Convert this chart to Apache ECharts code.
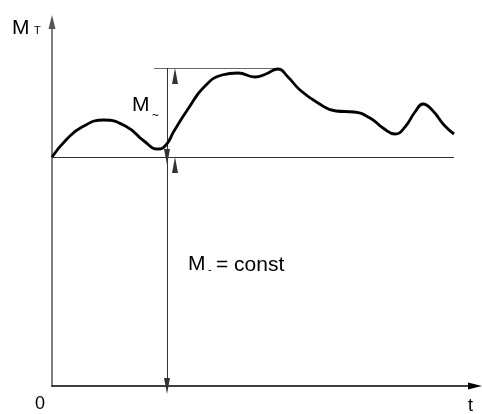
<!DOCTYPE html>
<html>
<head>
<meta charset="utf-8">
<script src="https://cdn.jsdelivr.net/npm/echarts@6/dist/echarts.min.js"></script>
<style>
  html, body { margin: 0; padding: 0; background: #fff; }
  #chart { width: 482px; height: 414px; }
</style>
</head>
<body>
<div id="chart"></div>
<script>
// torque curve M_T(t) (arbitrary units)
const tVals = [0, 14, 30, 52, 75, 92, 106, 114, 122, 136, 152, 170, 186, 203, 214, 226,
  236, 248, 266, 284, 302, 318, 331, 343, 353, 363, 371, 381, 392, 402];
const mVals = [229, 246, 259, 266, 259, 245, 237, 241, 255, 277, 299, 311, 313, 309, 312, 317,
  309, 296, 283, 275, 274, 268, 258, 252, 259, 274, 282, 275, 261, 252];

// dimension references
const mConst = 229;      // M_- level
const mPeak = 318;       // top of M_~
const tDim = 115;        // where the dimension line stands
const tPeakLineStart = 102;
const tPeakLineEnd = 228;
const tEnd = 402;

const FONT = "'Liberation Sans', Arial, sans-serif";

const chart = echarts.init(document.getElementById('chart'));

const txt = (x, y, text, size) => ({
  type: 'text', left: x, top: y - size / 2,
  style: { text, font: `${size}px ${FONT}`, fill: '#000' }
});

chart.setOption({
  animation: false,
  backgroundColor: '#fff',
  grid: { left: 52, right: 7, top: 22, bottom: 28 },
  xAxis: {
    type: 'value', min: 0, max: 423,
    axisLine: {
      show: true, onZero: false,
      symbol: ['none', 'triangle'], symbolSize: [7, 14],
      lineStyle: { color: '#000', width: 1.5 }
    },
    axisTick: { show: false }, axisLabel: { show: false }, splitLine: { show: false }
  },
  yAxis: {
    type: 'value', min: 0, max: 364,
    axisLine: {
      show: true, onZero: false,
      symbol: ['none', 'triangle'], symbolSize: [7, 14],
      lineStyle: { color: '#555', width: 1.5 }
    },
    axisTick: { show: false }, axisLabel: { show: false }, splitLine: { show: false }
  },
  series: [
    {
      type: 'line',
      data: tVals.map((t, i) => [t, mVals[i]]),
      smooth: 0.5,
      showSymbol: false,
      lineStyle: { color: '#000', width: 2.8 },
      z: 5,
      markLine: {
        silent: true,
        symbol: 'none',
        label: { show: false },
        lineStyle: { type: 'solid', color: '#333', width: 1 },
        data: [
          [{ coord: [0, mConst] }, { coord: [tEnd, mConst] }],
          [{ coord: [tPeakLineStart, mPeak], lineStyle: { color: '#666' } }, { coord: [tPeakLineEnd, mPeak] }]
        ]
      }
    },
    {
      type: 'line',
      data: [],
      markLine: {
        silent: true,
        symbol: ['triangle', 'triangle'],
        symbolSize: [6, 16],
        symbolOffset: [0, 8],
        label: { show: false },
        lineStyle: { type: 'solid', color: '#333', width: 1 },
        itemStyle: { color: '#000' },
        data: [
          [{ coord: [tDim, mConst] }, { coord: [tDim, mPeak] }],
          [{ coord: [tDim, 0] }, { coord: [tDim, mConst] }]
        ]
      }
    }
  ],
  graphic: [
    txt(12, 28, 'M', 21),
    txt(34, 31, 'T', 11),
    txt(132, 105, 'M', 21),
    txt(152, 116, '~', 12),
    txt(188, 264, 'M', 21),
    txt(208, 270, '-', 11),
    txt(216, 265, '= const', 21),
    txt(35, 404, '0', 18),
    txt(468, 406, 't', 18)
  ]
});
</script>
</body>
</html>
